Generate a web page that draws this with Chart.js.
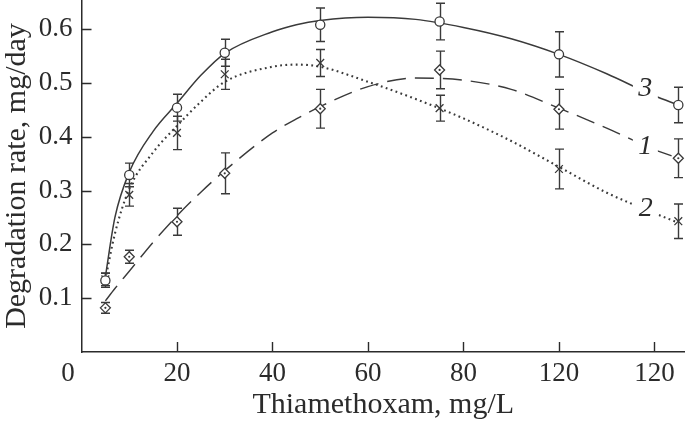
<!DOCTYPE html>
<html>
<head>
<meta charset="utf-8">
<script src="https://cdn.jsdelivr.net/npm/chart.js@4.4.1/dist/chart.umd.min.js"></script>
<style>
  html, body { margin: 0; padding: 0; background: #ffffff; }
  #wrap { width: 685px; height: 423px; }
</style>
</head>
<body>
<div id="wrap"><canvas id="c" width="685" height="423"></canvas></div>
<script>
// ---- data ----
const concentrations = [5, 10, 20, 30, 50, 75, 100, 125];

// curve 1: diamonds, dashed fit
const rate1 = [0.082, 0.177, 0.242, 0.332, 0.452, 0.524, 0.451, 0.360];
const err1  = [0.010, 0.012, 0.025, 0.038, 0.036, 0.035, 0.037, 0.036];
// curve 2: crosses, dotted fit
const rate2 = [0.135, 0.292, 0.407, 0.516, 0.537, 0.453, 0.340, 0.243];
const err2  = [0.012, 0.021, 0.031, 0.028, 0.025, 0.024, 0.037, 0.032];
// curve 3: circles, solid fit
const rate3 = [0.133, 0.329, 0.454, 0.556, 0.608, 0.614, 0.553, 0.459];
const err3  = [0.013, 0.022, 0.025, 0.025, 0.031, 0.034, 0.042, 0.033];

// fitted curves
const fitX = [5, 7, 10, 15, 20, 25, 30, 40, 45, 50, 60, 70, 80, 90, 100, 110, 120, 125];
const fit1 = [0.095, 0.118, 0.150, 0.204, 0.253, 0.297, 0.337, 0.407, 0.433, 0.456, 0.493, 0.509, 0.505, 0.488, 0.453, 0.416, 0.376, 0.360];
const fit2 = [0.135, 0.220, 0.303, 0.371, 0.420, 0.465, 0.502, 0.530, 0.534, 0.530, 0.502, 0.470, 0.434, 0.392, 0.344, 0.296, 0.258, 0.240];
const fit3 = [0.140, 0.250, 0.334, 0.410, 0.462, 0.514, 0.555, 0.595, 0.608, 0.616, 0.622, 0.618, 0.603, 0.582, 0.553, 0.517, 0.476, 0.459];

const xTickValues = [0, 20, 40, 60, 80, 100, 120];
const xTickLabels = ["0", "20", "40", "60", "80", "120", "120"];
const yTickValues = [0.1, 0.2, 0.3, 0.4, 0.5, 0.6];
const yTickLabels = ["0.1", "0.2", "0.3", "0.4", "0.5", "0.6"];
const curveLabels = ["1", "2", "3"];
const xTitle = "Thiamethoxam, mg/L";
const yTitle = "Degradation rate, mg/day";

// ---- styling ----
const ink = '#2b2b2b';
const lineInk = '#3a3a3a';
const serif = '"Liberation Serif", "DejaVu Serif", serif';

const toPts = (xs, ys) => xs.map((x, i) => ({ x: x, y: ys[i] }));

const errorSets = [
  { v: rate1, e: err1 },
  { v: rate2, e: err2 },
  { v: rate3, e: err3 }
];

const errorBarPlugin = {
  id: 'errorBars',
  beforeDatasetsDraw(chart) {
    const { ctx, scales: { x, y } } = chart;
    ctx.save();
    ctx.strokeStyle = lineInk;
    ctx.lineWidth = 1.4;
    errorSets.forEach(s => {
      concentrations.forEach((c, i) => {
        const px = Math.round(x.getPixelForValue(c)) + 0.5;
        const top = y.getPixelForValue(s.v[i] + s.e[i]);
        const bot = y.getPixelForValue(s.v[i] - s.e[i]);
        ctx.beginPath();
        ctx.moveTo(px, top); ctx.lineTo(px, bot);
        ctx.moveTo(px - 4.5, top); ctx.lineTo(px + 4.5, top);
        ctx.moveTo(px - 4.5, bot); ctx.lineTo(px + 4.5, bot);
        ctx.stroke();
      });
    });
    ctx.restore();
  }
};

const curveLabelPlugin = {
  id: 'curveLabels',
  afterDatasetsDraw(chart) {
    const { ctx, scales: { x, y } } = chart;
    // anchor points (data coordinates) where the labels sit on each curve
    const anchors = [
      { t: curveLabels[0], x: 118.1, y: 0.3825 },
      { t: curveLabels[1], x: 118.2, y: 0.269 },
      { t: curveLabels[2], x: 118.1, y: 0.492 }
    ];
    ctx.save();
    ctx.font = 'italic 28px ' + serif;
    ctx.textAlign = 'center';
    ctx.textBaseline = 'middle';
    anchors.forEach(a => {
      const px = x.getPixelForValue(a.x);
      const py = y.getPixelForValue(a.y);
      ctx.fillStyle = '#ffffff';
      ctx.fillRect(px - 12.5, py - 11, 25, 22);
      ctx.fillStyle = ink;
      ctx.fillText(a.t, px, py + 1);
    });
    ctx.restore();
  }
};

const inwardTicksPlugin = {
  id: 'inwardTicks',
  afterDraw(chart) {
    const { ctx, chartArea, scales: { x, y } } = chart;
    ctx.save();
    ctx.strokeStyle = ink;
    ctx.lineWidth = 1.4;
    ctx.beginPath();
    xTickValues.forEach(v => {
      if (v === 0) return;
      const px = Math.round(x.getPixelForValue(v)) + 0.5;
      ctx.moveTo(px, chartArea.bottom);
      ctx.lineTo(px, chartArea.bottom - 10);
    });
    yTickValues.forEach(v => {
      const py = Math.round(y.getPixelForValue(v)) + 0.5;
      ctx.moveTo(chartArea.left, py);
      ctx.lineTo(chartArea.left + 10, py);
    });
    ctx.stroke();
    ctx.restore();
  }
};

const markerBase = {
  showLine: false,
  borderColor: lineInk,
  backgroundColor: '#ffffff',
  borderWidth: 1.3,
  order: 0
};
const fitBase = {
  showLine: true,
  pointRadius: 0,
  borderColor: lineInk,
  backgroundColor: 'transparent',
  fill: false,
  cubicInterpolationMode: 'monotone',
  order: 2
};

new Chart(document.getElementById('c'), {
  type: 'scatter',
  data: {
    datasets: [
      Object.assign({}, markerBase, { label: '3', data: toPts(concentrations, rate3), pointStyle: 'circle', pointRadius: 4.6 }),
      Object.assign({}, markerBase, { label: '2', data: toPts(concentrations, rate2), pointStyle: 'crossRot', pointRadius: 5.5 }),
      Object.assign({}, markerBase, { label: '1', data: toPts(concentrations, rate1), pointStyle: 'rectRot', pointRadius: 5 }),
      { label: '1c', data: toPts(concentrations, rate1), showLine: false, pointStyle: 'circle', pointRadius: 1.1, backgroundColor: lineInk, borderWidth: 0, order: -1 },
      Object.assign({}, fitBase, { label: 'fit3', data: toPts(fitX, fit3), borderWidth: 1.5 }),
      Object.assign({}, fitBase, { label: 'fit2', data: toPts(fitX, fit2), borderWidth: 2.1, borderDash: [1.8, 3.4] }),
      Object.assign({}, fitBase, { label: 'fit1', data: toPts(fitX, fit1), borderWidth: 1.4, borderDash: [19, 9] })
    ]
  },
  options: {
    responsive: false,
    animation: false,
    devicePixelRatio: 1,
    layout: { padding: 0, autoPadding: false },
    plugins: { legend: { display: false }, tooltip: { enabled: false } },
    scales: {
      x: {
        type: 'linear',
        min: 0,
        max: 126.4,
        afterBuildTicks(s) { s.ticks = xTickValues.map(v => ({ value: v })); },
        afterFit(s) { s.height = 71; s.paddingLeft = 0; s.paddingRight = 0; },
        grid: { display: false, drawTicks: false },
        border: { display: true, color: ink, width: 1.5 },
        ticks: {
          autoSkip: false,
          maxRotation: 0,
          padding: 6,
          color: ink,
          font: { family: serif, size: 27 },
          callback: (v, i) => (v === 0 ? xTickLabels[i] + '\u2003' : xTickLabels[i])
        },
        title: {
          display: true,
          text: xTitle,
          color: ink,
          font: { family: serif, size: 30 },
          padding: { top: 0, bottom: 0 }
        }
      },
      y: {
        type: 'linear',
        min: 0,
        max: 0.654,
        afterBuildTicks(s) { s.ticks = yTickValues.map(v => ({ value: v })); },
        afterFit(s) { s.width = 81.5; s.paddingTop = 0; s.paddingBottom = 0; },
        grid: { display: false, drawTicks: false },
        border: { display: true, color: ink, width: 1.5 },
        ticks: {
          autoSkip: false,
          padding: 9,
          color: ink,
          font: { family: serif, size: 27 },
          callback: (v, i) => yTickLabels[i]
        },
        title: {
          display: true,
          text: yTitle,
          color: ink,
          font: { family: serif, size: 30, lineHeight: 1.1 },
          padding: { top: 1, bottom: 0 }
        }
      }
    }
  },
  plugins: [errorBarPlugin, curveLabelPlugin, inwardTicksPlugin]
});
</script>
</body>
</html>
